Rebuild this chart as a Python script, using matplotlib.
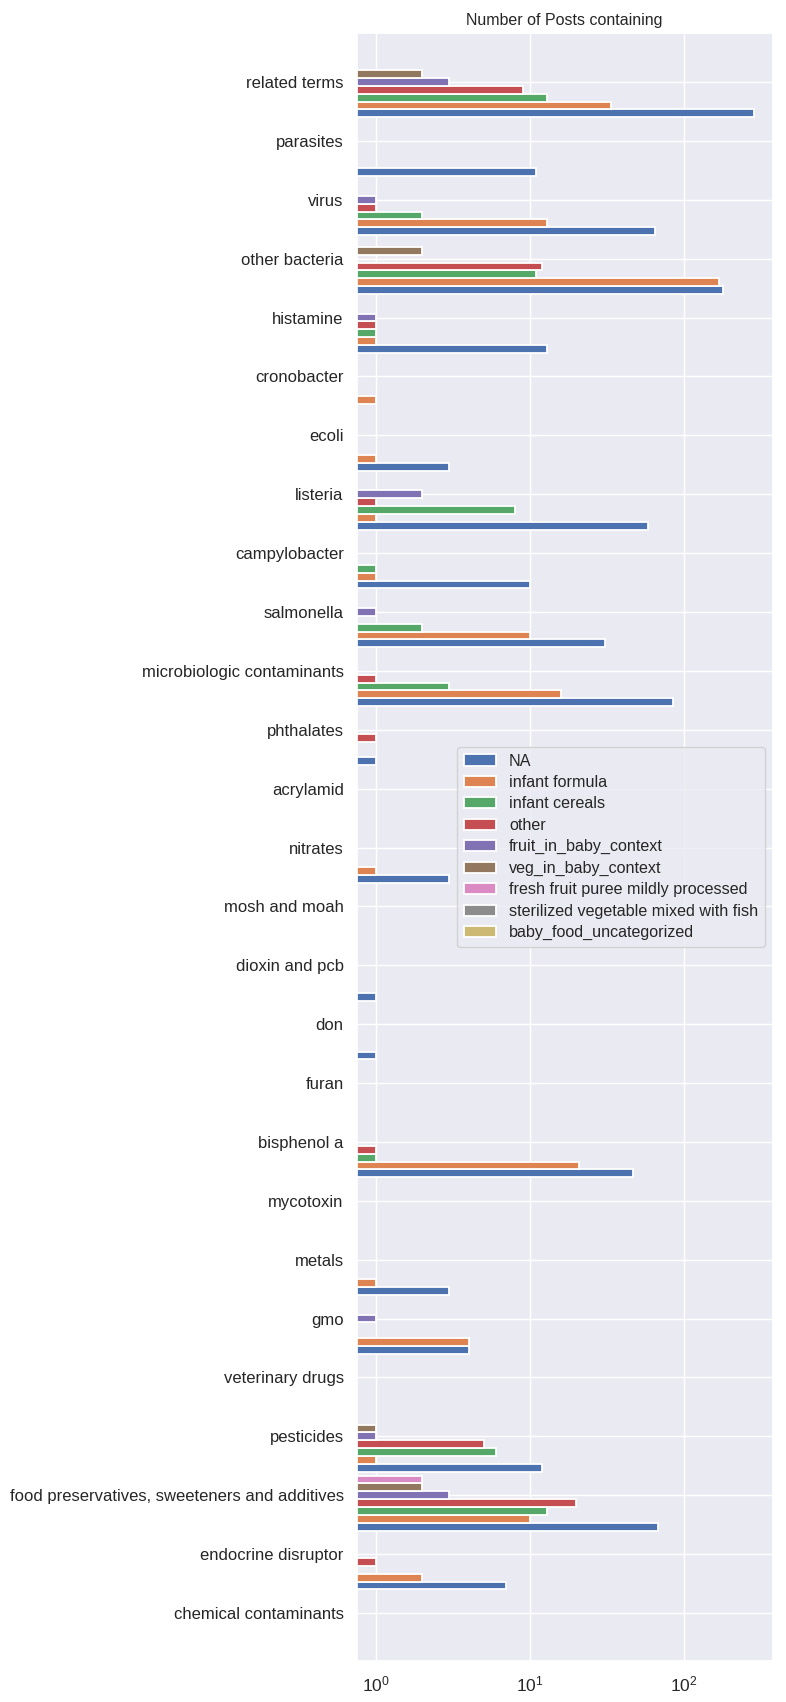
import numpy as np
import seaborn as sns
from matplotlib import pyplot as plt

sns.set_theme(style="darkgrid")
plt.rcParams['font.family'] = ['Liberation Sans', 'DejaVu Sans']
plt.rcParams['mathtext.fontset'] = 'custom'
plt.rcParams['mathtext.rm'] = 'Liberation Sans'
plt.rcParams['mathtext.it'] = 'Liberation Sans:italic'

# categories from bottom to top
categories = ["chemical contaminants", "endocrine disruptor",
              "food preservatives, sweeteners and additives", "pesticides",
              "veterinary drugs", "gmo", "metals", "mycotoxin", "bisphenol a",
              "furan", "don", "dioxin and pcb", "mosh and moah", "nitrates",
              "acrylamid", "phthalates", "microbiologic contaminants",
              "salmonella", "campylobacter", "listeria", "ecoli", "cronobacter",
              "histamine", "other bacteria", "virus", "parasites", "related terms"]

series_names = ["NA", "infant formula", "infant cereals", "other",
                "fruit_in_baby_context", "veg_in_baby_context",
                "fresh fruit puree mildly processed",
                "sterilized vegetable mixed with fish", "baby_food_uncategorized"]

na_vals     = [0, 7, 68, 12, 0, 4, 3, 0, 47, 0, 1, 1, 0, 3, 0, 1, 85, 31, 10, 59, 3, 0, 13, 181, 65, 11, 288]
formula     = [0, 2, 10, 1, 0, 4, 1, 0, 21, 0, 0, 0, 0, 1, 0, 0, 16, 10, 1, 1, 1, 1, 1, 170, 13, 0, 34]
cereals     = [0, 0, 13, 6, 0, 0, 0, 0, 1, 0, 0, 0, 0, 0, 0, 0, 3, 2, 1, 8, 0, 0, 1, 11, 2, 0, 13]
other       = [0, 1, 20, 5, 0, 0, 0, 0, 1, 0, 0, 0, 0, 0, 0, 1, 1, 0, 0, 1, 0, 0, 1, 12, 1, 0, 9]
fruit       = [0, 0, 3, 1, 0, 1, 0, 0, 0, 0, 0, 0, 0, 0, 0, 0, 0, 1, 0, 2, 0, 0, 1, 0, 1, 0, 3]
veg         = [0, 0, 2, 1, 0, 0, 0, 0, 0, 0, 0, 0, 0, 0, 0, 0, 0, 0, 0, 0, 0, 0, 0, 2, 0, 0, 2]
fresh_puree = [0, 0, 2, 0, 0, 0, 0, 0, 0, 0, 0, 0, 0, 0, 0, 0, 0, 0, 0, 0, 0, 0, 0, 0, 0, 0, 0]
sterilized  = [0] * 27
baby_uncat  = [0] * 27

all_series = [na_vals, formula, cereals, other, fruit, veg, fresh_puree, sterilized, baby_uncat]
colors = sns.color_palette("deep", 9)

fig, ax = plt.subplots(figsize=(7.86, 17.02), dpi=100)
fig.subplots_adjust(left=0.454, right=0.983, top=0.9806, bottom=0.0241)

pos = np.arange(len(categories))
step = 1.2 / len(all_series)
for i, vals in enumerate(all_series):
    v = np.array(vals, dtype=float)
    v[v <= 0] = np.nan  # nothing to draw on log axis
    ax.barh(pos + (i - 4) * step, v, height=step, color=colors[i],
            edgecolor='white', linewidth=1.3, label=series_names[i])

ax.set_xscale('log')
ax.set_xlim(0.75, 380)
ax.set_ylim(-0.815, 26.832)
ax.set_yticks(pos)
ax.set_yticklabels(categories, fontsize=12)
ax.tick_params(axis='x', labelsize=12.5)
ax.minorticks_off()
ax.set_title('Number of Posts containing', fontsize=11.5)
ax.legend(loc='center right', fontsize=11.6, labelspacing=0.4)

plt.savefig('out.png', dpi=100)
